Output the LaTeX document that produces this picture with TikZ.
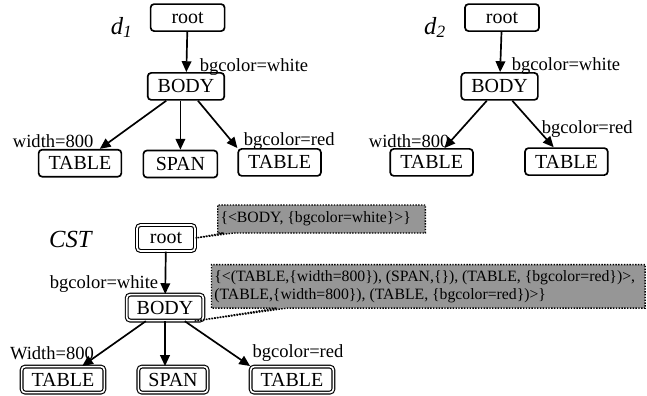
\documentclass[tikz,border=0pt]{standalone}
\usepackage{fontspec}
\setmainfont{Liberation Serif}
\usepackage{tikz}
\usetikzlibrary{shapes.callouts, arrows.meta, positioning}
\definecolor{cstgray}{RGB}{150,150,150}

\begin{document}
\begin{tikzpicture}[
    elem/.style = {rectangle, rounded corners=2.5pt, draw=black, line width=1.2pt, minimum width=1.85cm, minimum height=0.675cm, inner xsep=0.25cm, inner ysep=0pt, font=\fontsize{14.2}{17}\selectfont},
    cstelem/.style = {elem, double, double distance=1.2pt, line width=0.8pt, minimum width=1.45cm, minimum height=0.65cm},
    attr/.style = {inner sep=0pt, font=\fontsize{13.2}{15}\selectfont},
    doc/.style = {inner sep=0pt, font=\fontsize{17.5}{20}\selectfont\itshape},
    rel/.style = {draw=black, line width=1.2pt, -{Triangle[length=2.7mm, width=2.4mm]}},
    summary/.style = {rectangle callout, draw=black, densely dotted, line width=1pt, fill=cstgray, align=flush left, anchor=west, inner xsep=2pt, inner ysep=4pt, font=\fontsize{11.2}{12.8}\selectfont}
]
\useasboundingbox (0,0) rectangle (16.175,-9.875);

% Document d1
\node (d1) [doc] at (3.04, -0.69) {d\textsubscript{1}};
\node (root1) [elem] at (4.69, -0.44) {root};
\node (body1) [elem] at (4.65, -2.16) {BODY};
\node (table1a) [elem] at (2.0, -4.08) {TABLE};
\node (span1) [elem] at (4.51, -4.1) {SPAN};
\node (table1b) [elem] at (6.99, -4.06) {TABLE};
\node (white1) [attr] at (6.35, -1.68) {bgcolor=white};
\node (width1) [attr] at (1.33, -3.53) {width=800};
\node (red1) [attr] at (7.23, -3.53) {bgcolor=red};

% Document d2
\node (d2) [doc] at (10.875, -0.69) {d\textsubscript{2}};
\node (root2) [elem] at (12.55, -0.44) {root};
\node (body2) [elem] at (12.49, -2.16) {BODY};
\node (table2a) [elem] at (10.79, -4.06) {TABLE};
\node (table2b) [elem] at (14.16, -4.04) {TABLE};
\node (white2) [attr] at (14.15, -1.65) {bgcolor=white};
\node (width2) [attr] at (10.23, -3.53) {width=800};
\node (red2) [attr] at (14.68, -3.23) {bgcolor=red};

% CST
\node (cst) [doc] at (1.76, -5.98) {CST};
\node (root3) [cstelem] at (4.15, -5.95) {root};
\node (body3) [cstelem] at (4.125, -7.69) {BODY};
\node (table3a) [cstelem] at (1.575, -9.49) {TABLE};
\node (span3) [cstelem] at (4.325, -9.49) {SPAN};
\node (table3b) [cstelem] at (7.3, -9.49) {TABLE};
\node (white3) [attr] at (2.6, -7.1) {bgcolor=white};
\node (width3) [attr] at (1.3, -8.83) {Width=800};
\node (red3) [attr] at (7.45, -8.83) {bgcolor=red};

% Summaries
\node (sum1) [summary, text width=5.05cm, minimum height=0.7cm, callout absolute pointer={(root3.east)}] at (5.425, -5.475) {\{<BODY, \{bgcolor=white\}>\}};
\node (sum2) [summary, text width=10.7cm, minimum height=1.075cm, callout absolute pointer={(body3.-25)}] at (5.27, -7.16)
    {\{<(TABLE,\{width=800\}), (SPAN,\{\}), (TABLE, \{bgcolor=red\})>,\\(TABLE,\{width=800\}), (TABLE, \{bgcolor=red\})>\}};

% Edges
\draw [rel] (root1) -- (body1);
\draw [rel] (body1) -- (table1a);
\draw [rel] (span1 |- body1.south) -- (span1);
\draw [rel] (body1) -- (table1b.north west);

\draw [rel] (root2) -- (body2);
\draw [rel] (body2) -- (table2a);
\draw [rel] (body2) -- (table2b);

\draw [rel] (root3) -- (body3);
\draw [rel] (body3) -- (table3a);
\draw [rel] (body3.south) -- (body3.south |- span3.north);
\draw [rel] (body3) -- (table3b.north west);

\end{tikzpicture}
\end{document}
